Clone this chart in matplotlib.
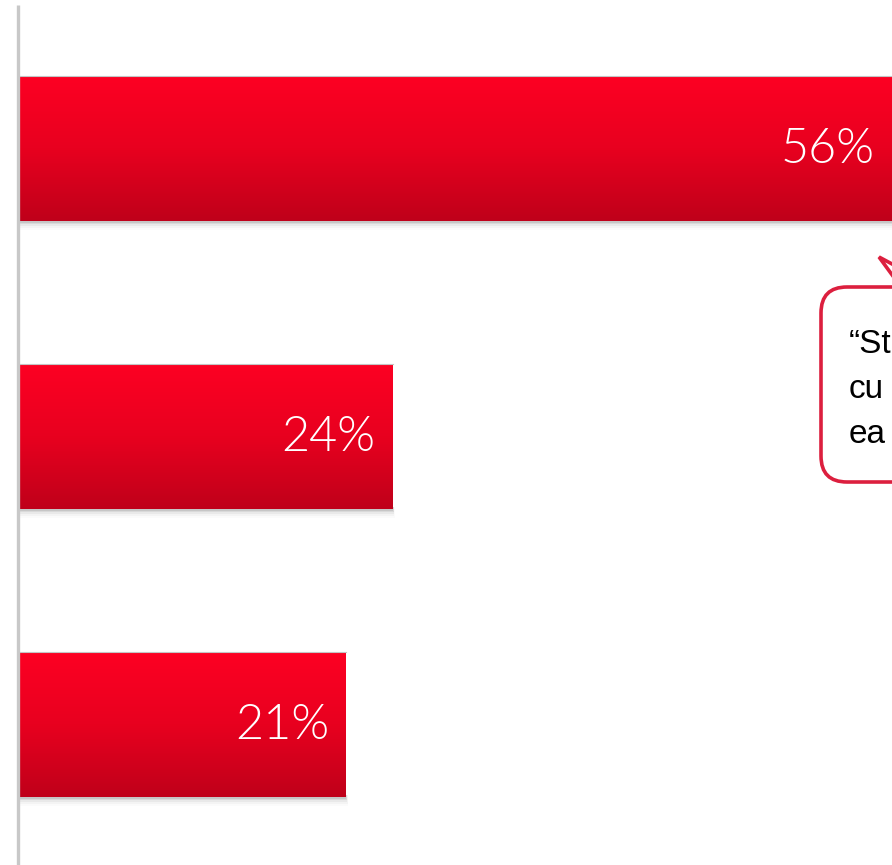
import numpy as np
import matplotlib
matplotlib.use("Agg")
import matplotlib.pyplot as plt
from matplotlib.patches import FancyBboxPatch, Polygon, Rectangle
from matplotlib.colors import LinearSegmentedColormap
from matplotlib.transforms import IdentityTransform

# Data
values = [56, 24, 21]
labels = ["56%", "24%", "21%"]
quote_lines = ["\u201cSt", "cu", "ea"]

W, H, DPI = 892, 865, 100
BAR_H = 0.503

fig = plt.figure(figsize=(W / DPI, H / DPI), dpi=DPI)
ax = fig.add_axes([0, 0, 1, 1])
ax.set_axis_off()

grad = LinearSegmentedColormap.from_list("bar", ["#fd0023", "#e8001f", "#bf001a"])
g = np.linspace(0, 1, 256).reshape(-1, 1)

ypos = np.arange(len(values))
for y, v, lab in zip(ypos, values, labels):
    top, bot = y - BAR_H / 2, y + BAR_H / 2
    # soft drop shadow under/right of the bar
    for k, a in enumerate([0.14, 0.10, 0.07, 0.04, 0.02]):
        off = (k + 1) * 0.006
        ax.add_patch(Rectangle((0, bot - 0.006), v + 0.025 * (k + 1), off + 0.006,
                               facecolor="#555555", alpha=a, lw=0, zorder=1))
    ax.imshow(g, cmap=grad, extent=(0, v, bot, top), aspect="auto",
              interpolation="bilinear", zorder=2)
    ax.plot([0, v], [top, top], color="#c4c4c4", lw=0.8, zorder=3)
    ax.text(v - 1.1, y + 0.005, lab, color="white", fontsize=35,
            family=["Lato", "DejaVu Sans"], fontweight=300,
            ha="right", va="center", zorder=4)

# vertical axis line
ax.plot([-0.05, -0.05], [-0.5, 3], color="#c8c8c8", lw=2.4, zorder=3,
        solid_capstyle="butt")

ax.set_xlim(-18.5 / 15.6, (W - 18.5) / 15.6)
ax.set_ylim((H - 148.5) / 288, -148.5 / 288)

# callout box (pixel coordinates)
red = "#dc1f3e"
pix = IdentityTransform()
box = FancyBboxPatch((821, H - 482), 200, 195,
                     boxstyle="round,pad=0,rounding_size=26",
                     facecolor="white", edgecolor=red, lw=2.6,
                     transform=pix, zorder=5)
fig.patches.append(box)
wedge = Polygon([(901, H - 287), (879, H - 257), (935, H - 287)], closed=False,
                facecolor="white", edgecolor=red, lw=2.6, transform=pix,
                zorder=6, joinstyle="miter")
fig.patches.append(wedge)
fig.patches.append(Rectangle((903, H - 290), 30, 5, facecolor="white", lw=0,
                             transform=pix, zorder=7))

for i, line in enumerate(quote_lines):
    fig.text(849 / W, 1 - (353 + 45 * i) / H, line, fontsize=24,
             family=["Liberation Sans", "DejaVu Sans"], color="black",
             ha="left", va="baseline", zorder=8)

fig.savefig("out.png", dpi=DPI)
